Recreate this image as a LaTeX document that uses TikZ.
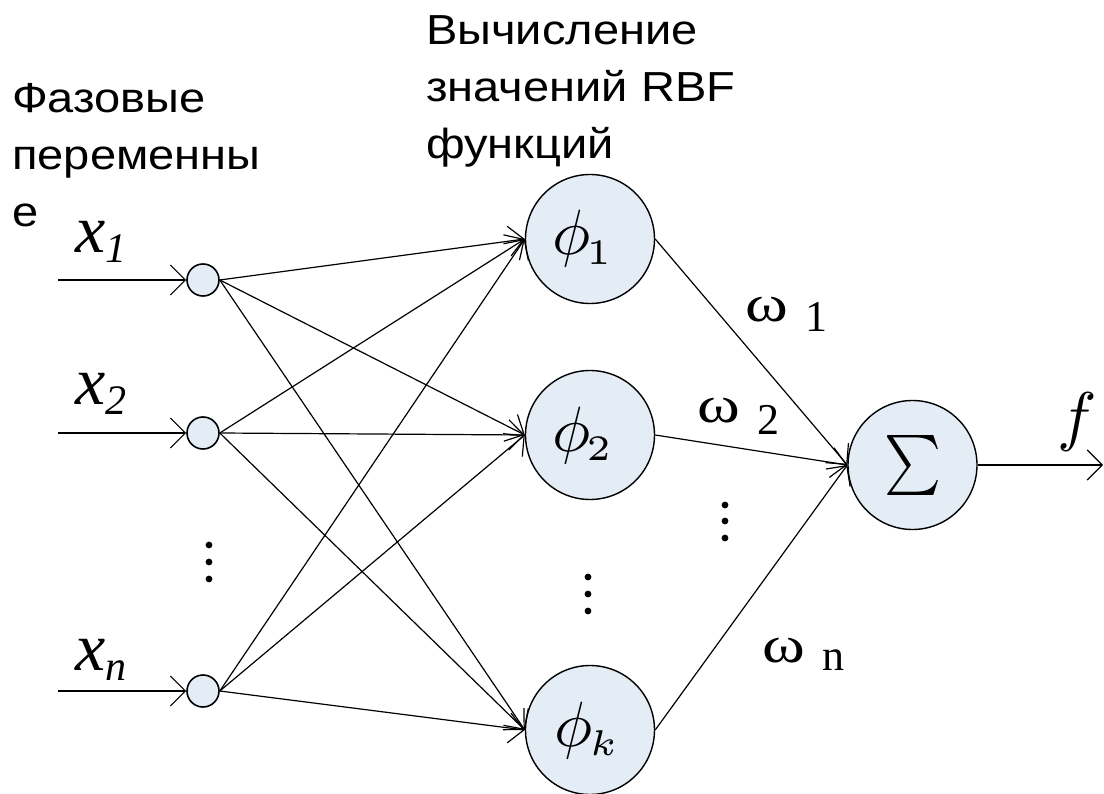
\RequirePackage{fix-cm}
\documentclass[tikz,border=0pt]{standalone}
\usepackage[no-math]{fontspec}
\setmainfont{Liberation Sans}
\newfontfamily\lblfont[FakeStretch=1.12]{Liberation Sans}
\newfontfamily\tnr{Liberation Serif}
\usetikzlibrary{arrows.meta}
\DeclareMathSizes{10}{10}{5.6}{5}
\definecolor{nodefill}{HTML}{E4ECF6}
\newcommand{\omg}{\scalebox{1.25}[1]{\fontsize{52}{52}\selectfont ω}}
\begin{document}
\begin{tikzpicture}[x=1pt,y=-1pt,
  inp/.style={circle,draw,line width=1.6pt,fill=nodefill,minimum size=32pt,inner sep=0pt},
  rbf/.style={circle,draw,line width=1.4pt,fill=nodefill,minimum size=129pt,inner sep=0pt,
    font=\fontsize{10}{12}\selectfont},
  conn/.style={line width=1.2pt,-{Straight Barb[length=15pt,width=30pt,line width=1.2pt]}},
  lbl/.style={anchor=base west,inner sep=0pt,font=\lblfont\fontsize{42}{42}\selectfont},
  xl/.style={anchor=base west,inner sep=0pt,font=\tnr\itshape\fontsize{68}{68}\selectfont},
  wl/.style={anchor=base west,inner sep=0pt,font=\tnr\fontsize{44}{44}\selectfont},
  dot/.style={fill=black}
]
\useasboundingbox (0,0) rectangle (1104,794);

% header texts
\node[lbl] (t1a) at (12,113) {Фазовые};
\node[lbl] (t1b) at (12,170) {переменны};
\node[lbl] (t1c) at (12,227) {е};
\node[lbl] (t2a) at (426,45) {Вычисление};
\node[lbl] (t2b) at (426,102) {значений RBF};
\node[lbl] (t2c) at (426,159) {функций};

% input nodes
\node[inp] (in1) at (203,280) {};
\node[inp] (in2) at (203,433) {};
\node[inp] (inn) at (203,691) {};

\coordinate (s1) at (58,280);
\coordinate (s2) at (58,433);
\coordinate (sn) at (58,691);

% RBF nodes
\node[rbf] (p1) at (590,239) {\scalebox{6.4}{$\phi_{\kern-0.6pt 1}$}\kern14pt};
\node[rbf] (p2) at (590,435) {\scalebox{6.4}{$\phi_{\kern-0.6pt 2}$}\kern14pt};
\node[rbf] (pk) at (590,730) {\scalebox{6.4}{$\phi_{\kern-0.5pt k}$}\kern5pt};

% sum node
\node[rbf] (sig) at (912.5,465) {\scalebox{5.4}[6]{$\sum$}};
\coordinate (out) at (1103,465);

% labels
\node[xl] (x1) at (75,253) {x\raisebox{-10pt}{\fontsize{42}{42}\selectfont 1}};
\node[xl] (x2) at (75,405) {x\raisebox{-10pt}{\fontsize{42}{42}\selectfont 2}};
\node[xl] (xn) at (75,670) {x\raisebox{-10pt}{\fontsize{42}{42}\selectfont n}};
\node[inner sep=0pt,font=\fontsize{10}{12}\selectfont] (fl) at (1077,422) {\scalebox{6.6}{$f$}};
\node[wl] (w1) at (745,322) {\omg\hspace{0.4em}\raisebox{-10pt}{1}};
\node[wl] (w2) at (697,423) {\omg\hspace{0.4em}\raisebox{-12pt}{2}};
\node[wl] (wn) at (762,662) {\omg\hspace{0.4em}\raisebox{-8pt}{n}};

% connectors
\draw[conn] (s1) -- (in1.west);
\draw[conn] (s2) -- (in2.west);
\draw[conn] (sn) -- (inn.west);
\foreach \i in {in1,in2,inn}{
  \foreach \j in {p1,p2,pk}{
    \draw[conn] (\i.east) -- (\j.west);
  }
}
\foreach \j in {p1,p2,pk}{
  \draw[conn] (\j.east) -- (sig.west);
}
\draw[conn] (sig.east) -- (out);

% dots
\foreach \y in {545,562,579} \fill[dot] (209,\y) circle (3.4pt);
\foreach \y in {577,594,611} \fill[dot] (588,\y) circle (3.4pt);
\foreach \y in {505,521,538} \fill[dot] (725,\y) circle (3.4pt);
\end{tikzpicture}
\end{document}
